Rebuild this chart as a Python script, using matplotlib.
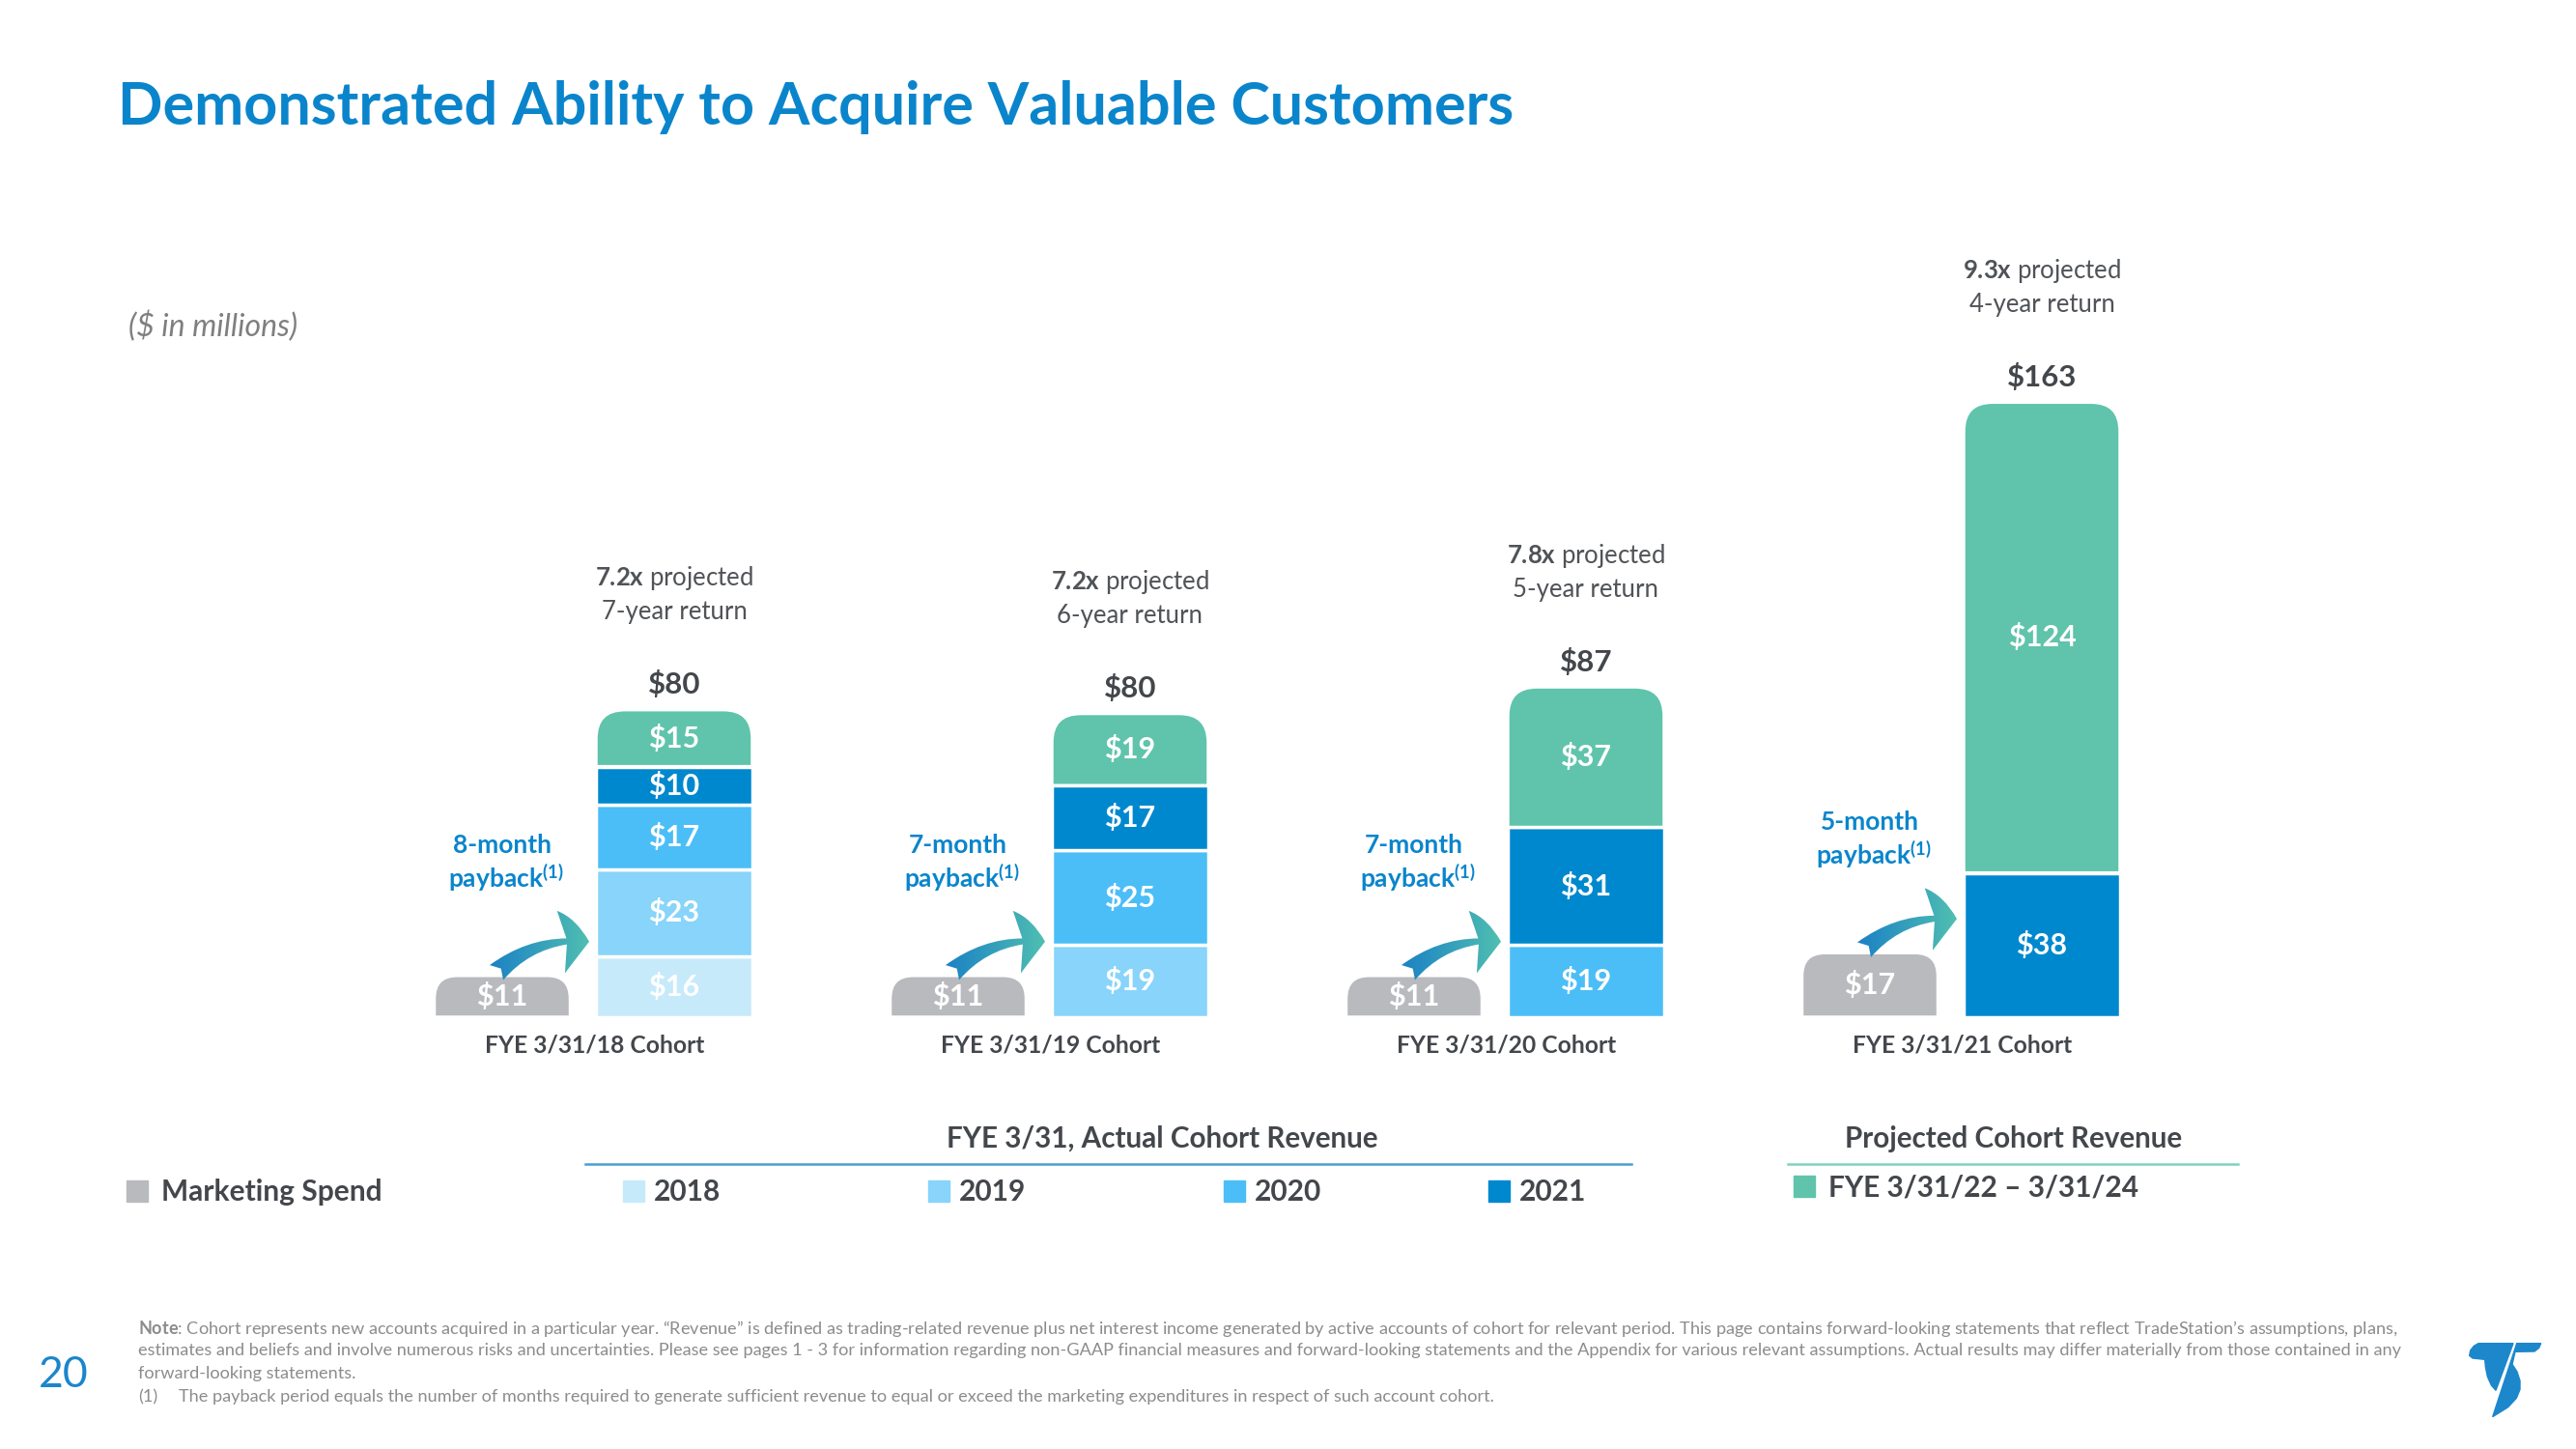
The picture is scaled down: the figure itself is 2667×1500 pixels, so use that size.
import numpy as np
import matplotlib
matplotlib.use("Agg")
import matplotlib.pyplot as plt
from matplotlib.patches import Rectangle, PathPatch, FancyArrowPatch, Polygon, ArrowStyle
from matplotlib.path import Path
from matplotlib.colors import LinearSegmentedColormap

plt.rcParams['font.family'] = ['Lato', 'DejaVu Sans']
plt.rcParams['mathtext.fontset'] = 'custom'
plt.rcParams['mathtext.rm'] = 'Lato'
plt.rcParams['mathtext.bf'] = 'Lato:bold'
plt.rcParams['mathtext.it'] = 'Lato:italic'

# ---- data ($ in millions) ----
cohorts = ["FYE 3/31/18 Cohort", "FYE 3/31/19 Cohort",
           "FYE 3/31/20 Cohort", "FYE 3/31/21 Cohort"]
marketing = [11, 11, 11, 17]
rev_2018 = [16, 0, 0, 0]
rev_2019 = [23, 19, 0, 0]
rev_2020 = [17, 25, 19, 0]
rev_2021 = [10, 17, 31, 38]
projected = [15, 19, 37, 124]
totals = [80, 80, 87, 163]
multiples = ["7.2x", "7.2x", "7.8x", "9.3x"]
horizons = ["7-year", "6-year", "5-year", "4-year"]
payback_months = [8, 7, 7, 5]
year_labels = ["2018", "2019", "2020", "2021"]
proj_label = "FYE 3/31/22 \u2013 3/31/24"

GRAY = '#B8BABD'
YEAR_COLORS = ['#C7EAFB', '#88D4FA', '#4BBEF7', '#0088CE']
PROJ = '#5FC4AB'
BLUE = '#0A85CC'
DARK = '#43474C'
NOTE = '#8C8C8C'

W, H = 2667, 1500
BASE = 1053          # pixel row of the bar baseline
PX = 3.93            # pixels per $1m
YMAX = 220

fig = plt.figure(figsize=(W / 100, H / 100), dpi=100)

# overlay axes in pixel coordinates for slide furniture
ov = fig.add_axes([0, 0, 1, 1])
ov.set_xlim(0, W)
ov.set_ylim(H, 0)
ov.axis('off')

ax = fig.add_axes([0, 1 - BASE / H, 1, YMAX * PX / H])
ax.set_xlim(0, W)
ax.set_ylim(0, YMAX)
ax.axis('off')


def round_top(ax, rect, r_px):
    x0, y0 = rect.get_x(), rect.get_y()
    x1, y1 = x0 + rect.get_width(), y0 + rect.get_height()
    rx, ry = r_px, r_px / PX
    verts = [(x0, y0), (x1, y0), (x1, y1 - ry), (x1, y1), (x1 - rx, y1),
             (x0 + rx, y1), (x0, y1), (x0, y1 - ry), (x0, y0)]
    codes = [Path.MOVETO, Path.LINETO, Path.LINETO, Path.CURVE3, Path.CURVE3,
             Path.LINETO, Path.CURVE3, Path.CURVE3, Path.CLOSEPOLY]
    p = PathPatch(Path(verts, codes), facecolor=rect.get_facecolor(),
                  edgecolor='white', linewidth=rect.get_linewidth(),
                  zorder=rect.get_zorder())
    rect.set_visible(False)
    ax.add_patch(p)


idx = np.arange(len(cohorts))
rev_x = 698 + idx * 472
mkt_x = rev_x - 178
REV_W, MKT_W = 162, 141

lab_kw = dict(ha='center', va='center', color='white', fontsize=22,
              fontweight='bold', zorder=5)

# marketing spend bars
mbars = ax.bar(mkt_x, marketing, MKT_W, color=GRAY, edgecolor='white',
               linewidth=2.5)
for b, v in zip(mbars, marketing):
    round_top(ax, b, 24)
    ax.text(b.get_x() + b.get_width() / 2, v / 2, f"${v}", **lab_kw)

# stacked cohort revenue
bottom = np.zeros(len(cohorts))
stack = [rev_2018, rev_2019, rev_2020, rev_2021, projected]
colors = YEAR_COLORS + [PROJ]
for k, (vals, col) in enumerate(zip(stack, colors)):
    vals = np.array(vals, dtype=float)
    bars = ax.bar(rev_x, vals, REV_W, bottom=bottom, color=col,
                  edgecolor='white', linewidth=2.5)
    for b, v, bt in zip(bars, vals, bottom):
        if v <= 0:
            b.set_visible(False)
            continue
        if k == len(stack) - 1:
            round_top(ax, b, 30)
        ax.text(b.get_x() + b.get_width() / 2, bt + v / 2, f"${int(v)}",
                **lab_kw)
    bottom += vals
tops = bottom

for i in idx:
    cx = rev_x[i]
    ax.annotate(f"${totals[i]}", (cx, tops[i]), xytext=(0, 26),
                textcoords='offset pixels', ha='center', va='center',
                fontsize=22.5, fontweight='bold', color=DARK)
    ax.annotate(r"$\mathbf{" + multiples[i] + "}$ projected", (cx, tops[i]),
                xytext=(0, 136), textcoords='offset pixels', ha='center',
                va='center', fontsize=18.5, color='#505357')
    ax.annotate(f"{horizons[i]} return", (cx, tops[i]), xytext=(0, 101),
                textcoords='offset pixels', ha='center', va='center',
                fontsize=18.5, color='#505357')
    # cohort name
    ax.annotate(cohorts[i], (cx - 82, 0), xytext=(0, -29),
                textcoords='offset pixels', ha='center', va='center',
                fontsize=17.7, fontweight='bold', color=DARK)
    # payback text
    mt = marketing[i]
    ax.annotate(f"{payback_months[i]}-month", (mkt_x[i], mt), xytext=(0, 135),
                textcoords='offset pixels', ha='center', va='center',
                fontsize=19, fontweight='bold', color=BLUE)
    ax.annotate(r"payback$^{\mathbf{(1)}}$", (mkt_x[i], mt), xytext=(4, 101),
                textcoords='offset pixels', ha='center', va='center',
                fontsize=19, fontweight='bold', color=BLUE)

# curved gradient arrows from spend to revenue
arrow_cmap = LinearSegmentedColormap.from_list('arr', ['#1A7FC6', '#52C2B0'])
grad = np.linspace(0, 1, 256).reshape(1, -1)
for i in idx:
    xa, ya = mkt_x[i] - 6, marketing[i] + 3 / PX
    xb, yb = rev_x[i] - REV_W / 2 - 7, marketing[i] + 35 / PX
    arr = FancyArrowPatch((xa, ya), (xb, yb), connectionstyle='arc3,rad=-0.22',
                          arrowstyle=ArrowStyle.Fancy(head_length=0.35,
                                                      head_width=0.78,
                                                      tail_width=0.25),
                          mutation_scale=60, shrinkA=0, shrinkB=0,
                          facecolor='none', edgecolor='none', zorder=4)
    ax.add_patch(arr)
    im = ax.imshow(grad, extent=(xa - 10, xb + 5, ya - 3, yb + 12),
                   aspect='auto', cmap=arrow_cmap, zorder=4, origin='lower')
    im.set_clip_path(arr)

ax.set_xlim(0, W)
ax.set_ylim(0, YMAX)

# ---- slide furniture ----
ov.text(122, 111, "Demonstrated Ability to Acquire Valuable Customers",
        ha='left', va='center', fontsize=44, fontweight='bold', color=BLUE)
ov.text(133, 338, "($ in millions)", ha='left', va='center', fontsize=23,
        style='italic', color='#7F7F7F')

leg_kw = dict(ha='left', va='center', fontsize=21.5, fontweight='bold',
              color=DARK)
SQ = 22
ov.add_patch(Rectangle((131, 1222), SQ, SQ, color=GRAY))
ov.text(167, 1234, "Marketing Spend", **leg_kw)

ov.text(1203, 1179, "FYE 3/31, Actual Cohort Revenue", ha='center',
        va='center', fontsize=21.3, fontweight='bold', color=DARK)
ov.plot([606, 1689], [1205, 1205], color='#4A9FD3', lw=1.8)
for xs, lab, col in zip([645, 961, 1267, 1541], year_labels, YEAR_COLORS):
    ov.add_patch(Rectangle((xs, 1222), SQ, SQ, color=col))
    ov.text(xs + 32, 1234, lab, **leg_kw)

ov.text(2085, 1179, "Projected Cohort Revenue", ha='center', va='center',
        fontsize=21.3, fontweight='bold', color=DARK)
ov.plot([1851, 2317], [1205, 1205], color='#7ED3BD', lw=1.8)
ov.add_patch(Rectangle((1857, 1217), SQ, SQ, color=PROJ))
ov.text(1893, 1229, proj_label, **leg_kw)

# footnotes
note_lines = [
    "$\\mathbf{Note}$: Cohort represents new accounts acquired in a particular year. \u201cRevenue\u201d is defined as "
    "trading-related revenue plus net interest income generated by active accounts of cohort for relevant period. "
    "This page contains forward-looking statements that reflect TradeStation\u2019s assumptions, plans,",
    "estimates and beliefs and involve numerous risks and uncertainties. Please see pages 1 - 3 for information "
    "regarding non-GAAP financial measures and forward-looking statements and the Appendix for various relevant "
    "assumptions. Actual results may differ materially from those contained in any",
    "forward-looking statements.",
]
for k, line in enumerate(note_lines):
    ov.text(143, 1375 + k * 23.5, line, ha='left', va='center', fontsize=13.1,
            color=NOTE)
ov.text(143, 1446, "(1)", ha='left', va='center', fontsize=13.1, color=NOTE)
ov.text(185, 1446, "The payback period equals the number of months required to generate sufficient "
        "revenue to equal or exceed the marketing expenditures in respect of such account cohort.",
        ha='left', va='center', fontsize=13.1, color=NOTE)

ov.text(66, 1424, "20", ha='center', va='center', fontsize=32, color='#1A86CC')

# logo
logo_a = [(78, 62), (186, 62), (132, 208), (118, 192), (106, 165), (100, 135),
          (98, 112), (60, 108), (50, 100), (53, 84), (64, 70)]
logo_b = [(197, 62), (272, 62), (266, 76), (252, 87), (192, 88), (183, 127),
          (198, 150), (207, 178), (207, 205), (196, 232), (170, 260), (122, 290)]
for shape in (logo_a, logo_b):
    pts = [(x / 3 + 2540, y / 3 + 1370) for x, y in shape]
    ov.add_patch(Polygon(pts, closed=True, color='#1C87CB'))

fig.savefig("out.png", dpi=100)
